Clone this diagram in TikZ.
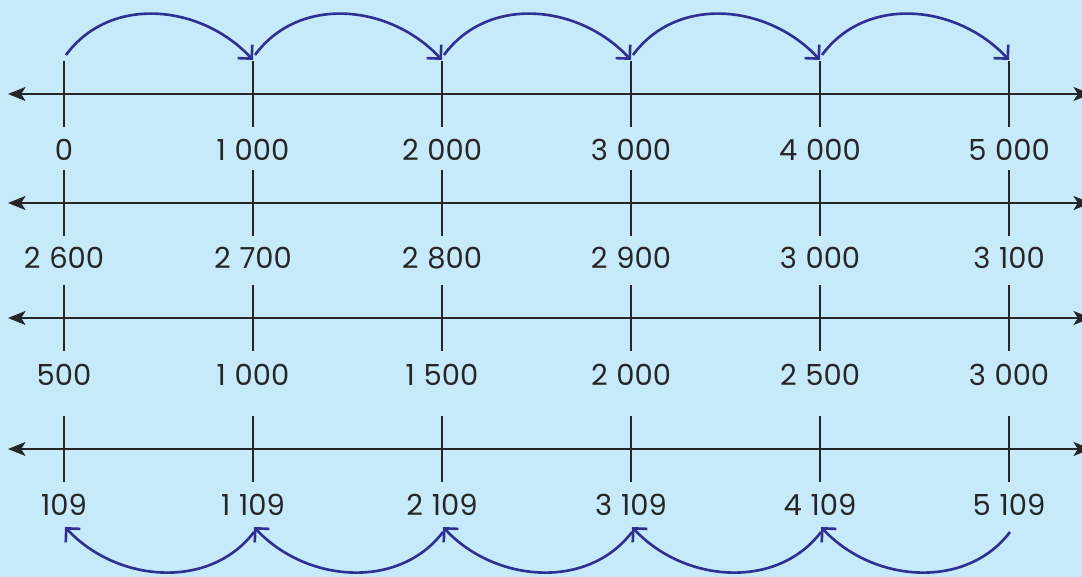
\documentclass[tikz,border=0pt]{standalone}
\usepackage{fontspec}
\setmainfont{Poppins}
\usetikzlibrary{arrows.meta}
\definecolor{skyBack}{RGB}{199,234,250}
\definecolor{lineGrey}{RGB}{38,38,38}
\definecolor{jumpBlue}{RGB}{46,49,146}

\begin{document}
\begin{tikzpicture}[x=0.02cm,y=-0.02cm,
  axis/.style={draw=lineGrey,line width=0.95pt,{Stealth[length=10pt,width=8pt,inset=2.5pt]}-{Stealth[length=10pt,width=8pt,inset=2.5pt]}},
  tickmark/.style={draw=lineGrey,line width=0.9pt},
  numlabel/.style={text=lineGrey,font=\fontsize{16.5}{20}\selectfont,inner sep=0pt,
    execute at begin node={\spaceskip=0.3em\relax}},
  jump/.style={draw=jumpBlue,line width=1.5pt,-{Straight Barb[angle=90:8pt]}}]
\fill[skyBack] (0,0) rectangle (1082,577);
\useasboundingbox (0,0) rectangle (1082,577);

% number lines with ticks
\foreach \row/\ypos in {1/94,2/203,3/318,4/449} {
  \coordinate (L\row) at (8,\ypos);
  \coordinate (R\row) at (1091,\ypos);
  \draw[axis] (L\row) -- (R\row);
  \foreach \col in {0,...,5}
    \draw[tickmark] ({64+189*\col},\ypos-33) -- ({64+189*\col},\ypos+33);
}

% labels
\foreach \txt [count=\c from 0] in {0,1 000,2 000,3 000,4 000,5 000}
  \node[numlabel] (n1-\c) at ({64+189*\c},150) {\txt};
\foreach \txt [count=\c from 0] in {2 600,2 700,2 800,2 900,3 000,3 100}
  \node[numlabel] (n2-\c) at ({64+189*\c},258) {\txt};
\foreach \txt [count=\c from 0] in {500,1 000,1 500,2 000,2 500,3 000}
  \node[numlabel] (n3-\c) at ({64+189*\c},375) {\txt};
\foreach \txt [count=\c from 0] in {109,1 109,2 109,3 109,4 109,5 109}
  \node[numlabel] (n4-\c) at ({64+189*\c},505) {\txt};

% jumps above
\foreach \c in {0,...,5} {
  \coordinate (js\c) at ({66+189*\c},55);
  \coordinate (je\c) at ({64+189*\c},60);
  \coordinate (ks\c) at ({65+189*\c},532);
  \coordinate (ke\c) at ({65+189*\c},527);
}
\foreach \c [evaluate=\c as \d using int(\c+1)] in {0,...,4}
  \draw[jump] (js\c) .. controls +(44,-60) and +(-52,-56) .. (je\d);

% jumps below
\foreach \c [evaluate=\c as \d using int(\c-1)] in {5,4,3,2,1}
  \draw[jump] (ks\c) .. controls +(-44,58) and +(52,56) .. (ke\d);
\end{tikzpicture}
\end{document}
